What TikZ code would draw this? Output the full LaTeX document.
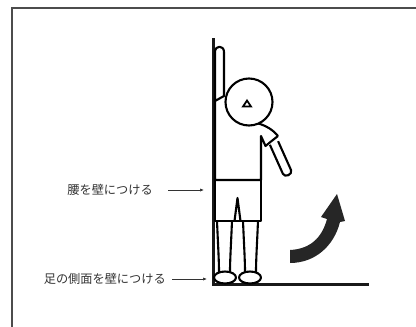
\documentclass[tikz,border=0pt]{standalone}
\usepackage{fontspec}
\newfontfamily\jpfont{Noto Sans CJK JP}
\usetikzlibrary{arrows.meta}

\begin{document}
\begin{tikzpicture}[
  x=1pt, y=-1pt,
  >={Latex[length=4pt,width=3.2pt]},
  font=\jpfont\fontsize{12.2}{14}\selectfont,
  frame/.style={draw=black!70, line width=1.3pt},
  wall/.style={draw=black!90, line width=3pt},
  body/.style={draw=black, line width=2.1pt, line join=round, fill=white},
  outline/.style={draw=black, line width=2.1pt, line join=round},
  label/.style={text=black!80, inner sep=0pt, anchor=east},
  pointer/.style={->, draw=black!80, line width=0.7pt, shorten <=15pt},
  turnarrow/.style={fill=black!85, draw=none},
]
\useasboundingbox (0,0) rectangle (416,327);

% --- outer frame (runs off the page right and bottom) ---
\draw[frame] (12,330) -- (12,8) -- (420,8);

% --- wall and floor ---
\draw[wall] (213,38) -- (213,284) -- (369,284);

% --- raised arm along the wall ---
\draw[body] (215,101) -- (215,52) .. controls (215,45) and (224,45) .. (224,52)
  -- (224,96) -- cycle;

% --- torso ---
\draw[outline] (215,101) -- (215,180) -- (261,180) -- (261,136)
  -- (265.5,146) -- (271,141.5) -- (278,136);
\draw[outline] (257,123) .. controls (267,126) and (273,130) .. (278,136);

% --- lower arm ---
\draw[body] (278.1,141.2) -- (291.1,170.2) .. controls (292.8,174.5) and (284.6,178) .. (282.9,173.8)
  -- (269.9,144.8);

% --- head ---
\draw[body] (249,102) circle (23.5pt);
\draw[line width=1.8pt, line join=miter] (247,100.5) -- (251,106.5) -- (243,106.5) -- cycle;

% --- shorts ---
\draw[outline] (215,180) rectangle (261,221);
\draw[outline] (234.5,221) -- (237.5,198) -- (240.5,221);

% --- legs ---
\draw[outline] (217,221) .. controls (218,245) and (219,260) .. (219,272);
\draw[outline] (232,221) .. controls (231,245) and (230,260) .. (230,272);
\draw[outline] (243,221) .. controls (244,245) and (245,260) .. (245,272);
\draw[outline] (258,221) .. controls (257,245) and (256,260) .. (256,272);

% --- feet ---
\draw[body] (225,277.5) ellipse (11pt and 6pt);
\draw[body] (250,277.5) ellipse (11pt and 6pt);

% --- turning arrow ---
\fill[turnarrow] (290,250) .. controls (310,249) and (322,238) .. (327,219)
  -- (321,217) -- (337,194) -- (345,221) -- (340,222)
  .. controls (334,246) and (315,263) .. (290,263) -- cycle;

% --- labels ---
\node[label] (waist) at (153,190) {腰を壁につける};
\node[label] (foot) at (166,279) {足の側面を壁につける};
\coordinate (waistpt) at (204,190);
\coordinate (footpt) at (207,279);
\draw[pointer] (waist.east) -- (waistpt);
\draw[pointer, shorten <=6pt] (foot.east) -- (footpt);

\end{tikzpicture}
\end{document}
